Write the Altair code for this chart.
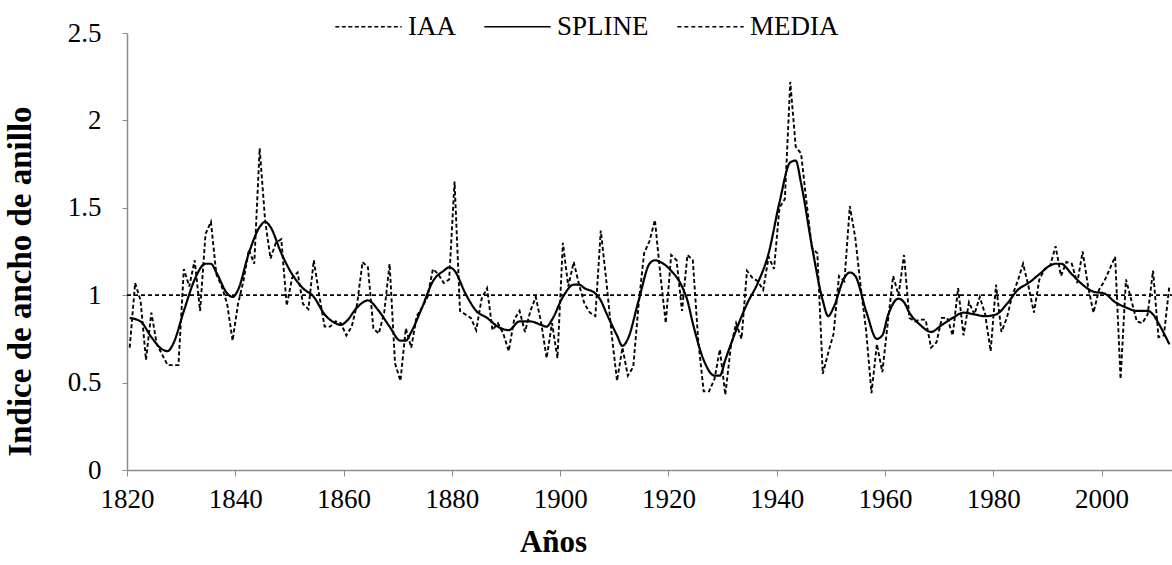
import altair as alt
import pandas as pd

FIRST_YEAR = 1820

iaa = [
    0.70, 1.07, 0.97, 0.63, 0.90, 0.72, 0.66, 0.60, 0.60, 0.60,  # 1820-1829
    1.15, 1.05, 1.20, 0.91, 1.35, 1.42, 1.12, 1.05, 0.95, 0.74,  # 1830-1839
    0.95, 1.08, 1.26, 1.18, 1.84, 1.43, 1.21, 1.30, 1.32, 0.94,  # 1840-1849
    1.10, 1.13, 0.95, 0.92, 1.20, 1.00, 0.82, 0.82, 0.85, 0.84,  # 1850-1859
    0.77, 0.82, 0.95, 1.19, 1.16, 0.81, 0.78, 0.90, 1.18, 0.61,  # 1860-1869
    0.51, 0.81, 0.70, 0.88, 0.93, 0.99, 1.15, 1.12, 1.07, 1.09,  # 1870-1879
    1.65, 0.91, 0.89, 0.87, 0.80, 0.98, 1.04, 0.80, 0.84, 0.78,  # 1880-1889
    0.68, 0.86, 0.91, 0.79, 0.91, 0.99, 0.84, 0.64, 0.84, 0.64,  # 1890-1899
    1.30, 1.05, 1.19, 1.06, 0.95, 0.90, 0.88, 1.37, 1.09, 0.78,  # 1900-1909
    0.51, 0.70, 0.54, 0.59, 0.95, 1.24, 1.31, 1.43, 1.12, 0.84,  # 1910-1919
    1.23, 1.20, 0.91, 1.23, 1.20, 0.74, 0.45, 0.45, 0.52, 0.69,  # 1920-1929
    0.43, 0.70, 0.84, 0.75, 1.14, 1.10, 1.08, 1.03, 1.22, 1.15,  # 1930-1939
    1.50, 1.55, 2.22, 1.85, 1.81, 1.53, 1.27, 1.24, 0.55, 0.67,  # 1940-1949
    0.78, 1.11, 1.08, 1.51, 1.33, 1.05, 0.80, 0.44, 0.72, 0.56,  # 1950-1959
    0.84, 1.11, 1.00, 1.23, 0.87, 0.85, 0.86, 0.86, 0.70, 0.73,  # 1960-1969
    0.87, 0.87, 0.77, 1.04, 0.77, 0.96, 0.89, 0.99, 0.89, 0.68,  # 1970-1979
    1.06, 0.79, 0.87, 1.00, 1.08, 1.18, 1.05, 0.90, 1.09, 1.15,  # 1980-1989
    1.17, 1.28, 1.11, 1.19, 1.18, 1.07, 1.25, 1.05, 0.90, 1.03,  # 1990-1999
    1.08, 1.15, 1.22, 0.52, 1.09, 0.97, 0.85, 0.84, 0.89, 1.14,  # 2000-2009
    0.76, 0.77, 1.05,                                            # 2010-2012
]

spline_years = [
    1820, 1822, 1824, 1826, 1827, 1828, 1830, 1832, 1834, 1835, 1836, 1838, 1839,
    1840, 1842, 1844, 1845, 1846, 1848, 1850, 1852, 1854, 1856, 1858, 1859, 1860,
    1862, 1864, 1866, 1868, 1870, 1871, 1872, 1874, 1876, 1878, 1879, 1880, 1882,
    1884, 1886, 1888, 1890, 1892, 1894, 1896, 1897, 1898, 1900, 1902, 1903, 1904,
    1906, 1907, 1908, 1910, 1911, 1912, 1914, 1916, 1917, 1918, 1920, 1922, 1923,
    1924, 1926, 1928, 1929, 1930, 1932, 1934, 1936, 1938, 1940, 1942, 1943, 1944,
    1946, 1948, 1949, 1950, 1952, 1953, 1954, 1956, 1958, 1959, 1960, 1962, 1963,
    1964, 1966, 1968, 1970, 1972, 1974, 1976, 1978, 1980, 1982, 1984, 1986, 1988,
    1990, 1991, 1992, 1994, 1996, 1998, 2000, 2002, 2004, 2006, 2008, 2009, 2010,
    2012,
]
spline_values = [
    0.87, 0.85, 0.76, 0.69, 0.68, 0.72, 0.91, 1.09, 1.18, 1.18, 1.13, 1.01, 0.99,
    1.03, 1.24, 1.39, 1.42, 1.39, 1.24, 1.12, 1.04, 0.99, 0.89, 0.84, 0.83, 0.85,
    0.93, 0.97, 0.91, 0.82, 0.74, 0.74, 0.79, 0.93, 1.08, 1.14, 1.16, 1.14, 1.01,
    0.91, 0.87, 0.82, 0.80, 0.85, 0.85, 0.83, 0.82, 0.86, 0.99, 1.06, 1.06, 1.04,
    1.01, 0.97, 0.90, 0.77, 0.71, 0.75, 0.97, 1.18, 1.20, 1.19, 1.14, 1.05, 0.97,
    0.84, 0.63, 0.54, 0.54, 0.63, 0.80, 0.95, 1.07, 1.24, 1.53, 1.76, 1.77, 1.64,
    1.28, 0.97, 0.88, 0.93, 1.10, 1.13, 1.11, 0.91, 0.75, 0.77, 0.88, 0.98, 0.96,
    0.90, 0.83, 0.79, 0.83, 0.87, 0.90, 0.89, 0.88, 0.89, 0.95, 1.03, 1.07, 1.12,
    1.17, 1.18, 1.18, 1.12, 1.06, 1.02, 1.01, 0.96, 0.93, 0.91, 0.91, 0.89, 0.84,
    0.72,
]

media_value = 1.0
media_span = [1820, 2013]
series_names = ["IAA", "SPLINE", "MEDIA"]
x_ticks = [1820, 1840, 1860, 1880, 1900, 1920, 1940, 1960, 1980, 2000]
y_ticks = [0, 0.5, 1, 1.5, 2, 2.5]

years = list(range(FIRST_YEAR, FIRST_YEAR + len(iaa)))
df_iaa = pd.DataFrame({"year": years, "value": iaa, "series": "IAA"})
df_spl = pd.DataFrame({"year": spline_years, "value": spline_values, "series": "SPLINE"})
df_med = pd.DataFrame({"year": media_span, "value": [media_value, media_value], "series": "MEDIA"})

FONT = "Liberation Serif"

x_enc = alt.X(
    "pos:Q",
    scale=alt.Scale(domain=[1820, 2013], nice=False, zero=False),
    axis=alt.Axis(values=x_ticks, format="d", title="Años", grid=False,
                  labelFontSize=27, labelPadding=10, tickSize=6, labelFlush=False,
                  labelOverlap=False,
                  titleFontSize=31, titleFontWeight="bold", titlePadding=15,
                  titleX=426),
)
y_enc = alt.Y(
    "value:Q",
    scale=alt.Scale(domain=[0, 2.5], nice=False),
    axis=alt.Axis(values=y_ticks, format="~g", title="Indice de ancho de anillo",
                  grid=False, labelFontSize=27, labelPadding=21, tickSize=5,
                  labelFlush=False,
                  titleFontSize=33, titleFontWeight="bold", titlePadding=30,
                  titleY=248),
)
dash = alt.StrokeDash(
    "series:N",
    scale=alt.Scale(domain=series_names, range=[[4, 2.5], [1, 0], [4, 3]]),
    legend=alt.Legend(title=None, orient="none", direction="horizontal",
                      legendX=207, legendY=-41, symbolType="stroke",
                      symbolSize=4400, symbolStrokeWidth=1.7, symbolStrokeColor="black",
                      labelFontSize=27, labelFont=FONT, labelOffset=5,
                      columnPadding=24, labelLimit=300),
    sort=series_names,
)

iaa_line = (
    alt.Chart(df_iaa)
    .transform_calculate(pos="datum.year + 0.5")
    .mark_line(color="black", strokeWidth=1.9, clip=True)
    .encode(x=x_enc, y=y_enc, strokeDash=dash)
)
spline_line = (
    alt.Chart(df_spl)
    .transform_calculate(pos="datum.year + 0.5")
    .mark_line(color="black", strokeWidth=2.2, interpolate="monotone", clip=True)
    .encode(x=x_enc, y=y_enc, strokeDash=dash)
)
media_line = (
    alt.Chart(df_med)
    .transform_calculate(pos="datum.year")
    .mark_line(color="black", strokeWidth=1.7, clip=True)
    .encode(x=x_enc, y=y_enc, strokeDash=dash)
)

chart = (
    alt.layer(iaa_line, spline_line, media_line)
    .properties(width=1045, height=437,
                padding={"left": 127, "top": 33, "right": 0, "bottom": 95},
                autosize="none")
    .configure(font=FONT)
    .configure_view(stroke=None)
    .configure_axis(domainColor="#8c8c8c", tickColor="#8c8c8c", labelColor="black",
                    titleColor="black", labelFont=FONT, titleFont=FONT, domainWidth=1.5)
)

chart.save("out.html", embed_options={"renderer": "svg", "actions": False})
